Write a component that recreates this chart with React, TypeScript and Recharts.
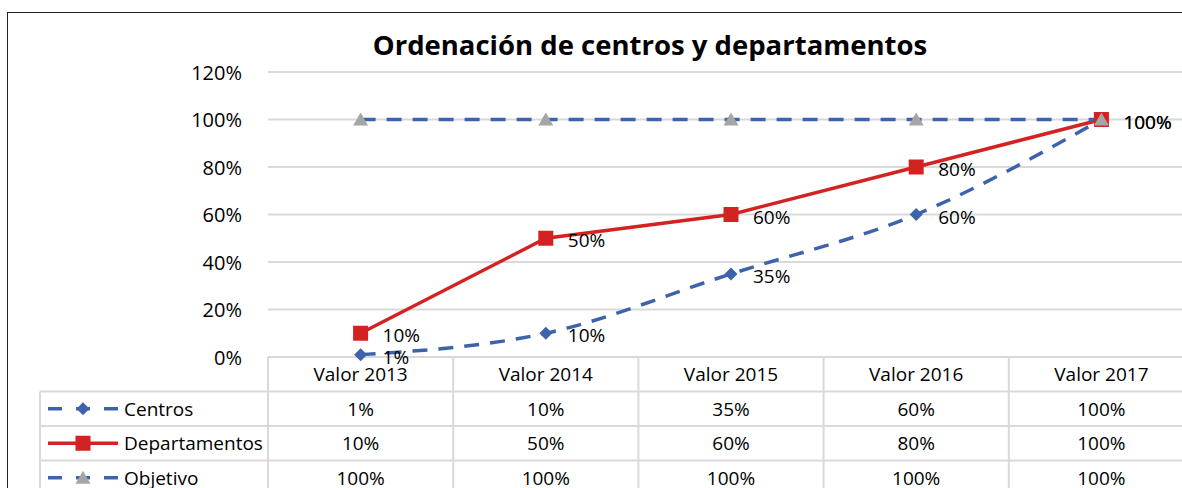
import React from 'react'
import { LineChart, Line, CartesianGrid, XAxis, YAxis, LabelList } from 'recharts'

const categories = ['Valor 2013', 'Valor 2014', 'Valor 2015', 'Valor 2016', 'Valor 2017']
const centros = [1, 10, 35, 60, 100]
const departamentos = [10, 50, 60, 80, 100]
const objetivo = [100, 100, 100, 100, 100]
const yTicks = [0, 20, 40, 60, 80, 100, 120]

const seriesNames = ['Centros', 'Departamentos', 'Objetivo']
const seriesValues = [centros, departamentos, objetivo]

const BLUE = '#3D63AC'
const RED = '#D42222'
const GREY = '#A5A5A5'
const GRID = '#D9D9D9'
const FONT = '"Open Sans", "Noto Sans", sans-serif'

const CHART_W = 1200
const CHART_H = 488
const Y_AXIS_W = 268
const PLOT_RIGHT = 6
const BAND = (CHART_W - Y_AXIS_W - PLOT_RIGHT) / categories.length
const ROW_H = 34.5

const data = categories.map((c, i) => ({
  cat: c,
  centros: centros[i],
  departamentos: departamentos[i],
  objetivo: objetivo[i]
}))

const pct = (v: number) => `${v}%`

function Diamond(props: any) {
  const { cx, cy } = props
  if (cx == null || cy == null) return null
  const r = 6.5
  return <path d={`M${cx},${cy - r}L${cx + r},${cy}L${cx},${cy + r}L${cx - r},${cy}Z`} fill={BLUE} />
}

function Square(props: any) {
  const { cx, cy } = props
  if (cx == null || cy == null) return null
  return <rect x={cx - 7.5} y={cy - 7.5} width={15} height={15} fill={RED} />
}

function Triangle(props: any) {
  const { cx, cy } = props
  if (cx == null || cy == null) return null
  return <path d={`M${cx},${cy - 7}L${cx + 7.5},${cy + 6}L${cx - 7.5},${cy + 6}Z`} fill={GREY} />
}

function PointLabel(props: any) {
  const { x, y, value } = props
  return (
    <text x={x + 22} y={y + 2} dominantBaseline="central" fontSize={19} fontFamily={FONT} fill="#000">
      {pct(value)}
    </text>
  )
}

function YTick(props: any) {
  const { x, y, payload } = props
  return (
    <text x={x - 18} y={y} textAnchor="end" dominantBaseline="central" fontSize={20} fontFamily={FONT} fill="#000">
      {pct(payload.value)}
    </text>
  )
}

// the data table under the plot, one column per category tick
function TableColumn(props: any) {
  const { x, y, payload, index } = props
  const left = x - BAND / 2
  const right = x + BAND / 2
  const rows = [payload.value, ...seriesValues.map(s => pct(s[index]))]
  return (
    <g>
      <line x1={left} y1={y} x2={left} y2={y + ROW_H * 4} stroke={GRID} strokeWidth={2} />
      {index === categories.length - 1 && (
        <line x1={right} y1={y} x2={right} y2={y + ROW_H * 4} stroke={GRID} strokeWidth={2} />
      )}
      {[1, 2, 3].map(r => (
        <line key={r} x1={left} y1={y + ROW_H * r} x2={right} y2={y + ROW_H * r} stroke={GRID} strokeWidth={2} />
      ))}
      {rows.map((t, r) => (
        <text key={r} x={x} y={y + ROW_H * r + ROW_H / 2} textAnchor="middle" dominantBaseline="central"
          fontSize={19} fontFamily={FONT} fill="#000">
          {t}
        </text>
      ))}
    </g>
  )
}

function LegendColumn() {
  const top = 357
  const x0 = 40
  const x1 = Y_AXIS_W
  return (
    <svg width={x1 + 2} height={CHART_H} style={{ position: 'absolute', left: 0, top: 0, pointerEvents: 'none' }}>
      <line x1={x0} y1={top + ROW_H} x2={x0} y2={CHART_H} stroke={GRID} strokeWidth={2} />
      {[1, 2, 3].map(r => (
        <line key={r} x1={x0} y1={top + ROW_H * r} x2={x1} y2={top + ROW_H * r} stroke={GRID} strokeWidth={2} />
      ))}
      {seriesNames.map((name, i) => {
        const cy = top + ROW_H * (i + 1) + ROW_H / 2
        return (
          <g key={name}>
            {i === 1 ? (
              <>
                <line x1={48} y1={cy} x2={118} y2={cy} stroke={RED} strokeWidth={3.5} />
                <Square cx={83} cy={cy} />
              </>
            ) : (
              <>
                <line x1={48} y1={cy} x2={62} y2={cy} stroke={BLUE} strokeWidth={3.5} />
                <line x1={104} y1={cy} x2={118} y2={cy} stroke={BLUE} strokeWidth={3.5} />
                <line x1={76} y1={cy} x2={90} y2={cy} stroke={BLUE} strokeWidth={3.5} />
                {i === 0 ? <Diamond cx={83} cy={cy} /> : <Triangle cx={83} cy={cy} />}
              </>
            )}
            <text x={124} y={cy} dominantBaseline="central" fontSize={19} fontFamily={FONT} fill="#000">
              {name}
            </text>
          </g>
        )
      })}
    </svg>
  )
}

export default function App() {
  return (
    <div style={{ position: 'absolute', left: 0, top: 0, width: 1182, height: CHART_H, overflow: 'hidden', background: '#fff' }}>
      <div style={{ position: 'absolute', left: 7, top: 12, width: 1300, height: 600, borderLeft: '1.5px solid #222', borderTop: '1.5px solid #222' }} />
      <div style={{ position: 'absolute', left: 650, top: 22, transform: 'translateX(-50%)', whiteSpace: 'nowrap', fontFamily: FONT, fontWeight: 700, fontSize: 27.5, color: '#000', lineHeight: '46px' }}>
        Ordenación de centros y departamentos
      </div>
      <div style={{ position: 'absolute', left: 0, top: 0 }}>
        <LineChart width={CHART_W} height={CHART_H} data={data} margin={{ top: 72, right: PLOT_RIGHT, bottom: 0, left: 0 }}>
          <CartesianGrid vertical={false} stroke={GRID} strokeWidth={2} />
          <XAxis dataKey="cat" scale="band" height={CHART_H - 357} axisLine={{ stroke: GRID, strokeWidth: 2 }} tickLine={false}
            tickSize={0} tickMargin={0} interval={0} tick={<TableColumn />} />
          <YAxis width={Y_AXIS_W} domain={[0, 120]} ticks={yTicks} axisLine={false} tickLine={false} tick={<YTick />} />
          <Line type="monotone" dataKey="centros" stroke={BLUE} strokeWidth={3.5} strokeDasharray="15 11" dot={<Diamond />}
            activeDot={false} isAnimationActive={false}>
            <LabelList dataKey="centros" content={<PointLabel />} />
          </Line>
          <Line dataKey="departamentos" stroke={RED} strokeWidth={3.5} dot={<Square />} activeDot={false} isAnimationActive={false}>
            <LabelList dataKey="departamentos" content={<PointLabel />} />
          </Line>
          <Line dataKey="objetivo" stroke={BLUE} strokeWidth={3.5} strokeDasharray="15 11" dot={<Triangle />}
            activeDot={false} isAnimationActive={false} />
        </LineChart>
      </div>
      <LegendColumn />
    </div>
  )
}
